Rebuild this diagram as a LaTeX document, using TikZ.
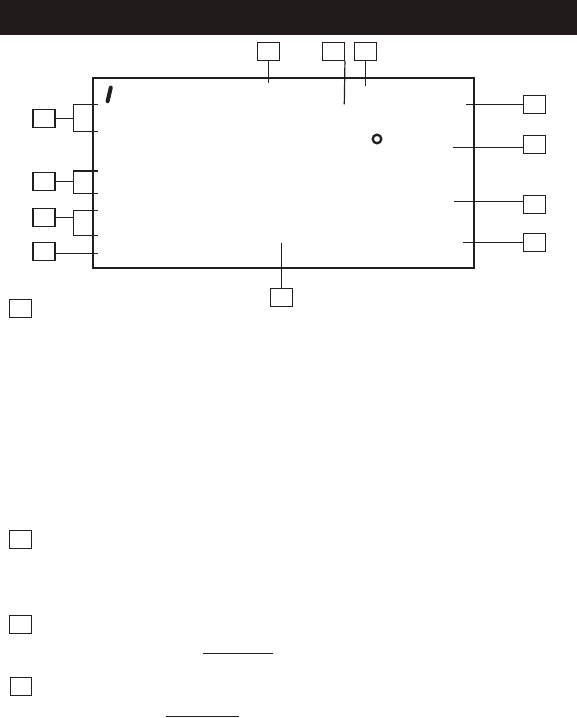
\documentclass[tikz,border=0pt]{standalone}
\usepackage{tikz}
\usetikzlibrary{positioning}
\definecolor{ink}{RGB}{35,31,32}
\definecolor{barfill}{RGB}{33,28,25}
\tikzset{
  bar/.style={fill=barfill, draw=none, inner sep=0pt, minimum width=577pt, minimum height=35pt, anchor=north west},
  lcd/.style={draw=ink, line width=1.2pt, inner sep=0pt, minimum width=381pt, minimum height=190pt},
  tag/.style={draw=ink, line width=1.3pt, inner sep=0pt, minimum width=22pt, minimum height=18pt},
  ln/.style={draw=ink, line width=1.2pt},
  seg/.style={draw=ink, line width=4pt, line cap=round}
}
\begin{document}
\begin{tikzpicture}[x=1pt, y=-1pt, node distance=9pt]
\useasboundingbox (0,0) rectangle (577,718);
\node[bar] (hdr) at (0,0) {};
\node[lcd] (disp) at (283.5,173) {};
\draw[seg] (110.8,87.6) -- (107.6,101.2);
\draw[ink, line width=2.3pt] (377,139) circle (4.3pt);
% left side
\node[tag] (l1) at (44,118.3) {};
\node[tag] (l2) at (44,181.8) {};
\node[tag] (l3) at (44,217.2) {};
\node[tag] (l4) at (44,251.3) {};
\coordinate (bx) at (73.3,0);
\coordinate (t1a) at (97.7,104.3); \coordinate (t1b) at (97.7,131.3);
\coordinate (t2a) at (97.7,171);   \coordinate (t2b) at (97.7,193.3);
\coordinate (t3a) at (97.7,210.3); \coordinate (t3b) at (97.7,235.3);
\coordinate (t4) at (97.7,253.3);
\draw[ln] (l1.east) -- (l1.east -| bx); \draw[ln] (t1a) -- (t1a -| bx) -- (t1b -| bx) -- (t1b);
\draw[ln] (l2.east) -- (l2.east -| bx); \draw[ln] (t2a) -- (t2a -| bx) -- (t2b -| bx) -- (t2b);
\draw[ln] (l3.east) -- (l3.east -| bx); \draw[ln] (t3a) -- (t3a -| bx) -- (t3b -| bx) -- (t3b);
\draw[ln] (t4 -| l4.east) -- (t4);
% top
\node[tag] (ta) at (268.2,51.3) {};
\node[tag] (tb) at (333.3,51.3) {};
\node[tag, right=of tb] (tc) {};
\coordinate (pa) at (268.7,83.3);
\coordinate (pb) at (344.3,104.3);
\coordinate (pc) at (365.3,85.7);
\draw[ln] (pa |- ta.south) -- (pa);
\draw[ln] (tb.south east) -- (pb);
\draw[ln] (pc |- tc.south) -- (pc);
% right side
\node[tag] (r1) at (534.5,104.3) {};
\node[tag] (r2) at (534.5,144.3) {};
\node[tag] (r3) at (534.5,204.8) {};
\node[tag] (r4) at (534.5,242.8) {};
\coordinate (q1) at (466,104.3);
\coordinate (q2) at (453,147.3);
\coordinate (q3) at (454,201.3);
\coordinate (q4) at (463,242.3);
\draw[ln] (q1) -- (q1 -| r1.west);
\draw[ln] (q2) -- (q2 -| r2.west);
\draw[ln] (q3) -- (q3 -| r3.west);
\draw[ln] (q4) -- (q4 -| r4.west);
% bottom
\node[tag] (bm) at (281.5,297.3) {};
\coordinate (pm) at (281.7,242.7);
\draw[ln] (pm) -- (pm |- bm.north);
% notes
\node[tag] (n1) at (20.5,308.5) {};
\node[tag] (n2) at (20.5,539.3) {};
\node[tag] (n3) at (20.5,624.3) {};
\node[tag, minimum width=21.4pt] (n4) at (21,686.2) {};
\draw[ln] (203.3,653.3) -- (272.7,653.3);
\draw[ln] (165.7,716.3) -- (239.3,716.3);
\end{tikzpicture}
\end{document}
